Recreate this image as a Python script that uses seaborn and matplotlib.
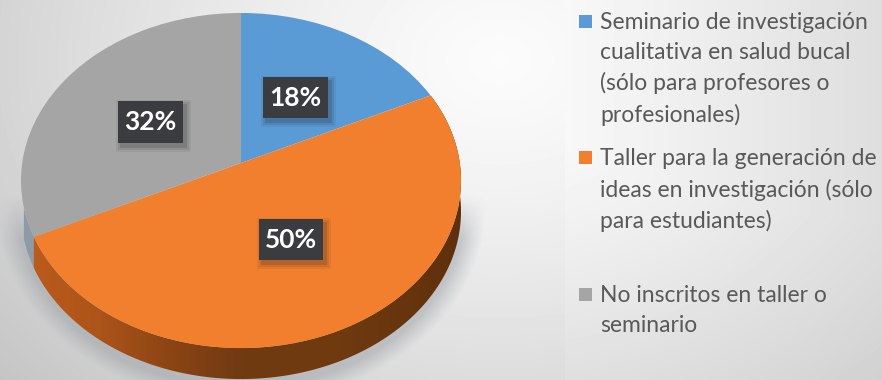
import numpy as np
import matplotlib
matplotlib.use("Agg")
import matplotlib.pyplot as plt
import seaborn as sns
from matplotlib.path import Path
from matplotlib.patches import PathPatch, Rectangle
from matplotlib.transforms import Transform

categories = [
    "Seminario de investigación\ncualitativa en salud bucal\n(sólo para profesores o\nprofesionales)",
    "Taller para la generación de\nideas en investigación (sólo\npara estudiantes)",
    "No inscritos en taller o\nseminario",
]
shares = [18, 50, 32]
slice_colors = ["#5B9BD5", "#F27F2E", "#A5A5A5"]

W, H = 882, 380
CX, CY, RX, RY, TILT = 241.0, 163.0, 218.8, 165.7, 0.1045
DEPTH = 31.0

sns.set_theme(style="white")
plt.rcParams["font.family"] = ["Lato", "DejaVu Sans"]


class TiltedDisc(Transform):
    """Projects the unit pie onto a disc leaning away from the viewer."""
    input_dims = output_dims = 2
    is_separable = False
    has_inverse = False

    def __init__(self, drop=0.0):
        super().__init__()
        self.drop = drop

    def transform_non_affine(self, values):
        v = np.asarray(values, dtype=float)
        w = 1.0 + TILT * v[:, 1]
        return np.column_stack((CX + RX * v[:, 0] / w,
                                CY + self.drop - RY * v[:, 1] / w))


fig = plt.figure(figsize=(W / 100, H / 100), dpi=100)
ax = fig.add_axes([0, 0, 1, 1])

# Slide backdrop: soft light-grey shading
yy, xx = np.mgrid[0:H, 0:W] + 0.5
dist = np.hypot((xx - 500) / 520, (yy - 60) / 400)
backdrop = np.clip(0.985 - 0.16 * dist ** 1.3, 0, 1)
right = xx > 565
backdrop[right] = np.minimum(backdrop[right] + 0.012,
                             0.97 - 0.10 * ((xx[right] - 565) / 317) ** 1.1)
ax.imshow(backdrop, cmap="gray", vmin=0, vmax=1, extent=(0, W, H, 0), zorder=0, aspect="auto")

# Blurred ground shadow under the disc
ex = (xx - CX) / 236
ey = (yy - (CY + 42)) / 192
rim = np.hypot(ex, ey)
haze = np.clip((1.04 - rim) / 0.09, 0, 1) ** 1.1 * np.clip((yy - 195) / 45, 0, 1)
ax.imshow(np.dstack((np.full_like(haze, 0.60), np.full_like(haze, 0.62),
                     np.full_like(haze, 0.64), haze * 0.5)),
          extent=(0, W, H, 0), zorder=1, aspect="auto")

wedges, _ = ax.pie(shares, colors=slice_colors, startangle=90, counterclock=False,
                   radius=1.0, frame=True, wedgeprops={"linewidth": 0})

top_face = TiltedDisc(0.0)
base_face = TiltedDisc(DEPTH)
for wedge in wedges:
    wedge.set_transform(top_face + ax.transData)
    wedge.set_zorder(4)


def wall_outline(start_deg, end_deg):
    t = np.radians(np.linspace(start_deg, end_deg, 200))
    circle = np.column_stack((np.cos(t), np.sin(t)))
    upper = top_face.transform_non_affine(circle)
    lower = base_face.transform_non_affine(circle)[::-1]
    return Path(np.vstack((upper, lower, upper[:1])), closed=True)


# Outer wall of the disc, shaded left to right
boundaries = 90 - np.cumsum([0] + shares) * 3.6
orange_wall = wall_outline(boundaries[2], boundaries[1])

ramp_x = np.array([0, 40, 100, 170, 241, 340, 440, 470])
ramp_r = np.array([190, 186, 172, 140, 112, 112, 98, 92])
ramp_g = np.array([92, 90, 84, 68, 58, 58, 50, 46])
ramp_b = np.array([28, 28, 26, 20, 18, 16, 12, 10])
cols = np.arange(W) + 0.5
wall_rgb = np.dstack([np.interp(cols, ramp_x, c)[None, :] / 255 for c in (ramp_r, ramp_g, ramp_b)])
wall_img = ax.imshow(wall_rgb, extent=(0, W, H, 0), zorder=3, aspect="auto")
wall_img.set_clip_path(PathPatch(orange_wall, transform=ax.transData))
ax.add_patch(PathPatch(wall_outline(boundaries[2], boundaries[2] - 10),
                       facecolor="#8D9BA6", edgecolor="none", zorder=2.5))

ax.set_xlim(0, W)
ax.set_ylim(H, 0)
ax.set_aspect("auto")
ax.axis("off")

# Value labels on dark plates with a drop shadow
plates = [(263, 77, 65, 41), (259, 219, 64, 41), (118, 101, 65, 42)]
for value, (px, py, pw, ph) in zip(shares, plates):
    for grow, alpha in ((5, 0.07), (3, 0.10), (1, 0.16)):
        ax.add_patch(Rectangle((px + 3 - grow, py + 4 - grow), pw + 2 * grow, ph + 2 * grow,
                               facecolor="#222222", alpha=alpha, edgecolor="none", zorder=5))
    ax.add_patch(Rectangle((px, py), pw, ph, facecolor="#3A3C3F", edgecolor="none", zorder=6))
    ax.text(px + pw / 2, py + ph / 2 + 0.5, f"{value}%", color="white", fontsize=19,
            fontweight="bold", ha="center", va="center", zorder=7)

# Key on the right
key_rows = [22, 158, 295]
for label, color, row in zip(categories, slice_colors, key_rows):
    ax.add_patch(Rectangle((579, row - 7), 13, 13, facecolor=color, edgecolor="none", zorder=6))
    ax.text(600, row - 10, label, color="#595959", fontsize=16.5, ha="left", va="top",
            linespacing=1.52, zorder=6)

fig.savefig("out.png", dpi=100)
